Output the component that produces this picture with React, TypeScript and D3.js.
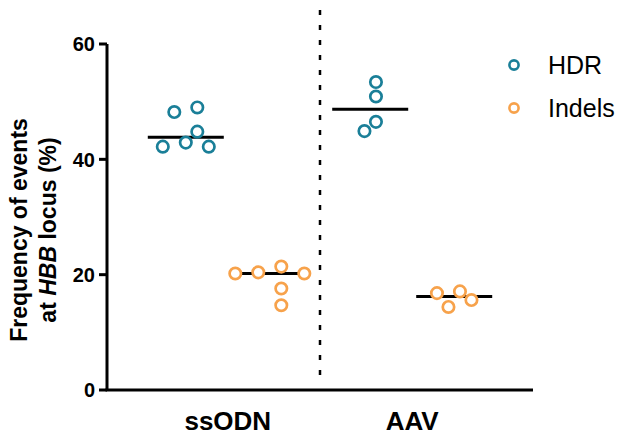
import * as d3 from 'd3';

// categories and series
const categories = ['ssODN', 'AAV'];
const seriesNames = ['HDR', 'Indels'];
const seriesColors = ['#1a7f98', '#f7a24b'];

// values (%)
const hdrSsodn = [49.0, 48.2, 44.8, 42.2, 42.9, 42.2];
const hdrAav = [53.4, 50.9, 46.5, 44.9];
const indelsSsodn = [20.2, 21.4, 20.2, 20.4, 17.6, 14.7];
const indelsAav = [17.1, 16.8, 15.6, 14.4];

const yTicks = [0, 20, 40, 60];

const seriesValues = {
  HDR: [hdrSsodn, hdrAav],
  Indels: [indelsSsodn, indelsAav],
};

const W = 625;
const H = 436;
const margin = { top: 44, right: 92, bottom: 46, left: 107 };
const font = "'Liberation Sans', Arial, Helvetica, sans-serif";

// simple beeswarm: place each point nearest to the centre without overlapping
function swarm(values, y, minDist, step) {
  const order = values.map((v, i) => i).sort((a, b) => values[b] - values[a] || a - b);
  const off = new Array(values.length).fill(0);
  const placed = [];
  order.forEach(i => {
    const py = y(values[i]);
    for (let k = 0; k < 50; k++) {
      const cand = k === 0 ? 0 : (k % 2 ? -1 : 1) * Math.ceil(k / 2) * step;
      const ok = placed.every(p => Math.hypot(p.x - cand, p.y - py) >= minDist);
      if (ok) {
        off[i] = cand;
        placed.push({ x: cand, y: py });
        break;
      }
    }
  });
  const mid = (d3.min(off) + d3.max(off)) / 2;
  return off.map(o => o - mid);
}

export default function App() {
  const y = d3.scaleLinear().domain([0, 60]).range([H - margin.bottom, margin.top]);
  const x = d3.scalePoint().domain(categories).range([margin.left, W - margin.right]).padding(0.655);
  const xs = d3.scalePoint().domain(seriesNames).range([-42, 42]);
  const color = d3.scaleOrdinal().domain(seriesNames).range(seriesColors);

  const groups = [];
  seriesNames.forEach(s => {
    categories.forEach((c, ci) => {
      const vals = seriesValues[s][ci];
      const cx = x(c) + xs(s);
      const offs = swarm(vals, y, 14, 11.5);
      groups.push({ s, c, cx, vals, offs, med: d3.median(vals) });
    });
  });

  const sepX = (x(categories[0]) + x(categories[1])) / 2;
  const x0 = margin.left;
  const x1 = W - margin.right;

  return (
    <svg width={W} height={H} style={{ position: 'absolute', left: 0, top: 0, background: '#fff' }}>
      {/* separator */}
      <line x1={sepX} x2={sepX} y1={10} y2={378} stroke="#000" strokeWidth={2.5} strokeDasharray="5 10" />

      {/* axes */}
      <line x1={x0} x2={x0} y1={y(60)} y2={y(0)} stroke="#000" strokeWidth={3} />
      <line x1={x0 - 1.5} x2={x1} y1={y(0)} y2={y(0)} stroke="#000" strokeWidth={3} />
      {yTicks.map(t => (
        <g key={t}>
          <line x1={x0 - 8} x2={x0} y1={y(t)} y2={y(t)} stroke="#000" strokeWidth={3} />
          <text x={x0 - 12} y={y(t)} dy="0.36em" textAnchor="end" fontFamily={font} fontWeight="bold" fontSize={20}>
            {t}
          </text>
        </g>
      ))}
      {categories.map(c => (
        <text key={c} x={x(c)} y={430} textAnchor="middle" fontFamily={font} fontWeight="bold" fontSize={26}>
          {c}
        </text>
      ))}

      {/* y label */}
      <text transform="rotate(-90)" textAnchor="middle" fontFamily={font} fontWeight="bold" fontSize={23}>
        <tspan x={-230} y={27}>Frequency of events</tspan>
        <tspan x={-230} y={56}>
          at <tspan fontStyle="italic">HBB</tspan> locus (%)
        </tspan>
      </text>

      {/* medians */}
      {groups.map(g => (
        <line key={'m' + g.s + g.c} x1={g.cx - 38} x2={g.cx + 38} y1={y(g.med)} y2={y(g.med)} stroke="#000" strokeWidth={3} />
      ))}

      {/* points */}
      {groups.map(g =>
        g.vals.map((v, i) => (
          <circle
            key={g.s + g.c + i}
            cx={g.cx + g.offs[i]}
            cy={y(v)}
            r={5.7}
            fill="#fff"
            stroke={color(g.s)}
            strokeWidth={2.7}
          />
        ))
      )}

      {/* legend */}
      {seriesNames.map((s, i) => (
        <g key={s} transform={`translate(514, ${65 + i * 43})`}>
          <circle r={4.6} fill="#fff" stroke={color(s)} strokeWidth={2.6} />
          <text x={34} dy="0.36em" fontFamily={font} fontSize={25}>
            {s}
          </text>
        </g>
      ))}
    </svg>
  );
}
